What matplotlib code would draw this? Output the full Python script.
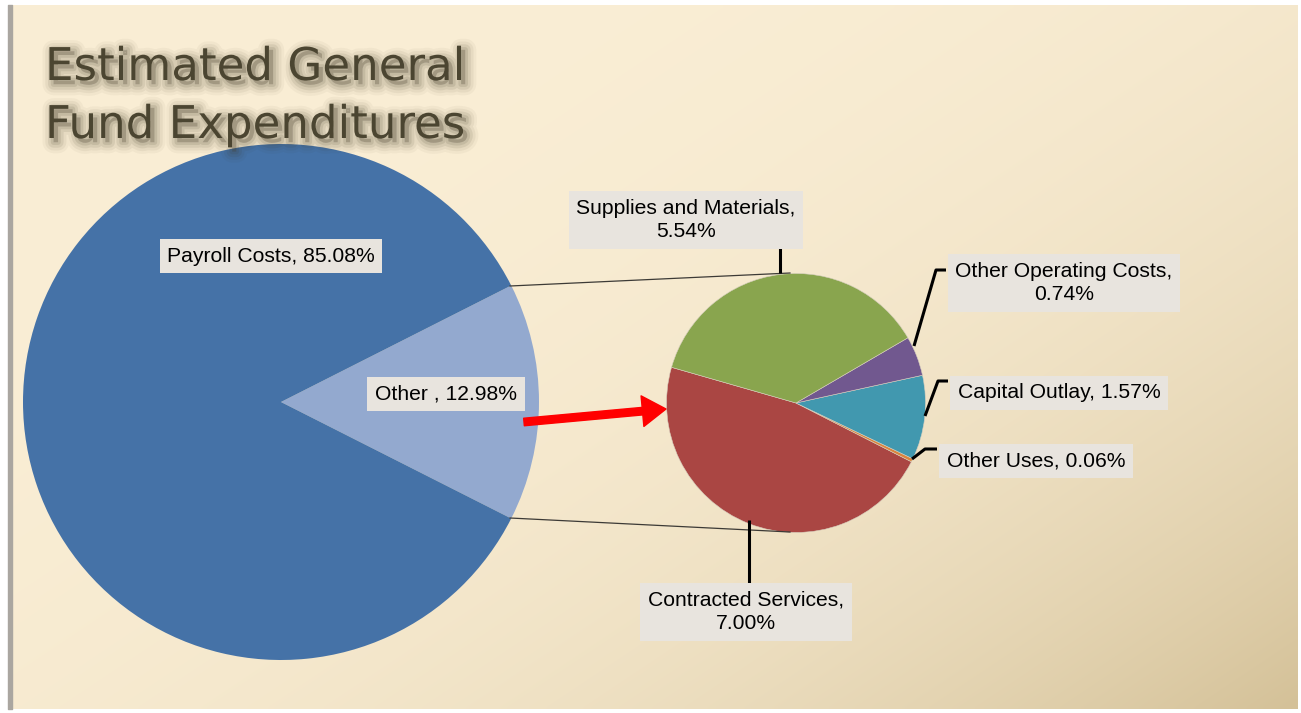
import numpy as np
import matplotlib
matplotlib.use("Agg")
import matplotlib.pyplot as plt
import matplotlib.patheffects as pe

# ---- data ----
main_labels = ["Payroll Costs, 85.08%", "Other , 12.98%"]
payroll_value = 85.08

sub_names = ["Contracted Services", "Other Uses", "Capital Outlay",
             "Other Operating Costs", "Supplies and Materials"]
sub_values = [7.00, 0.06, 1.57, 0.74, 5.54]
sub_labels = ["Contracted Services,\n7.00%", "Other Uses, 0.06%",
              "Capital Outlay, 1.57%", "Other Operating Costs,\n0.74%",
              "Supplies and Materials,\n5.54%"]

main_colors = ["#93a9cf", "#4572a7"]
sub_colors = ["#aa4643", "#db843d", "#4198af", "#71588f", "#89a54e"]

W, H = 1301, 713


def Y(py):
    # slide pixel row -> data y (y axis points up)
    return H - py


fig = plt.figure(figsize=(W / 100, H / 100), dpi=100)
fig.patch.set_facecolor("white")
ax = fig.add_axes([0, 0, 1, 1])

# background gradient (cream -> tan toward the bottom right)
gx, gy = np.meshgrid(np.linspace(0, 1, 300), np.linspace(0, 1, 170))
f = np.clip(gx * 0.55 + gy * 0.45, 0, 1) ** 3.2
c0 = np.array([250, 238, 213]) / 255
c1 = np.array([212, 193, 152]) / 255
grad = c0 + (c1 - c0) * f[..., None]
ax.imshow(grad, extent=[12, 1298, Y(709), Y(5)], origin="upper",
          aspect="auto", zorder=0, interpolation="bilinear")
ax.fill_between([8, 12], Y(709), Y(5), color="#aaa6a0", zorder=0.5)

# main pie: "Other" slice centred on the right
other_share = sum(sub_values)
main_vals = [other_share, payroll_value]
start = -other_share / (other_share + payroll_value) * 180
main_c = (281, Y(402))
ax.pie(main_vals, colors=main_colors, startangle=start, center=main_c,
       radius=258, counterclock=True, frame=True,
       wedgeprops=dict(linewidth=0, antialiased=True))

# secondary pie
sub_c = (796, Y(403))
ax.pie(sub_values, colors=sub_colors, startangle=164, center=sub_c,
       radius=129.5, counterclock=True, frame=True,
       wedgeprops=dict(linewidth=0.4, edgecolor="#d8d0c0"))

# connector lines between the pies
ax.plot([510, 790], [Y(286), Y(273)], color="#3c3a36", lw=0.9, zorder=3)
ax.plot([510, 790], [Y(518), Y(532)], color="#3c3a36", lw=0.9, zorder=3)

# red arrow
ax.annotate("", xy=(666, Y(409)), xytext=(524, Y(422)),
            arrowprops=dict(arrowstyle="simple,head_length=1.0,head_width=1.3,tail_width=0.32",
                            color="#ff0000", mutation_scale=17, shrinkA=0, shrinkB=0),
            zorder=5)

# leader lines
leaders = [
    [(780, 248), (780, 273)],
    [(946, 270), (936, 270), (914, 346)],
    [(948, 381), (938, 381), (925, 416)],
    [(937, 449), (925, 449), (912, 459)],
    [(749, 520), (749, 583)],
]
for pts in leaders:
    xs = [p[0] for p in pts]
    ys = [Y(p[1]) for p in pts]
    ax.plot(xs, ys, color="black", lw=2.2, zorder=4, solid_capstyle="butt")

# data labels
box = dict(boxstyle="square,pad=0.36", facecolor="#e8e4de", edgecolor="none")
label_font = dict(family=["Liberation Sans", "DejaVu Sans"], fontsize=15.2,
                  color="black", ha="center", va="center", linespacing=1.3,
                  zorder=6)
ax.text(271, Y(256), main_labels[0], bbox=box, **label_font)
ax.text(446, Y(394), main_labels[1], bbox=box, **label_font)
sub_pos = [(746, Y(612)), (1036, Y(461)), (1059, Y(393)),
           (1064, Y(283)), (686, Y(220))]
for (x, y), txt in zip(sub_pos, sub_labels):
    ax.text(x, y, txt, bbox=box, **label_font)

# title with soft shadow
shadow = [pe.Stroke(linewidth=w, foreground="#3b3420", alpha=a, offset=(3, -3))
          for w, a in [(16, 0.04), (12, 0.06), (8, 0.09), (4, 0.11)]]
shadow.append(pe.Normal())
for txt, yb in [("Estimated General", 80), ("Fund Expenditures", 138)]:
    ax.text(45, Y(yb), txt, fontsize=32.5, family=["DejaVu Sans"],
            color="#4b4531", ha="left", va="baseline", zorder=7,
            path_effects=shadow)

ax.set_xlim(0, W)
ax.set_ylim(0, H)
ax.set_aspect("equal")
ax.axis("off")

fig.savefig("out.png", dpi=100, facecolor="white")
